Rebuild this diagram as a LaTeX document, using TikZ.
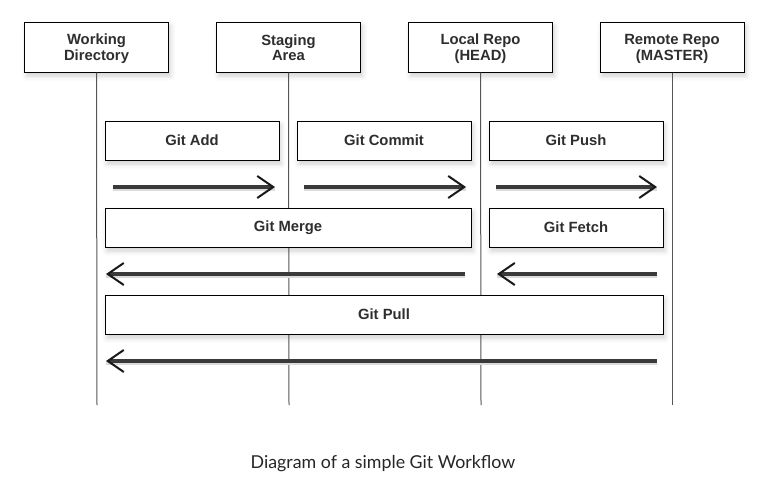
\documentclass[tikz,border=0pt]{standalone}
\usepackage{fontspec}
\setmainfont{Liberation Sans}
\newfontfamily\captionfont{Lato}
\usetikzlibrary{arrows.meta,shadows.blur}
\definecolor{ink}{HTML}{2E2E2E}
\definecolor{shaft}{HTML}{3A3A3A}
\definecolor{lifeline}{HTML}{555555}
\begin{document}
\begin{tikzpicture}[x=1pt,y=-1pt,
  card/.style={draw=black, line width=1pt, fill=white, text=ink,
    font=\bfseries\fontsize{14.8}{13.5}\selectfont, align=center,
    blur shadow={shadow xshift=2pt, shadow yshift=-4pt, shadow blur radius=5pt, shadow opacity=18}},
  headbox/.style={card, minimum width=144pt, minimum height=50pt},
  headtext/.style={text=ink, font=\bfseries\fontsize{14.8}{13.5}\selectfont, align=center, inner sep=0pt},
  cmdbox/.style={card, minimum height=39pt},
  life/.style={draw=lifeline, line width=1pt},
  msg/.style={draw=shaft, line width=3.6pt,
    -{Straight Barb[length=16pt, width=22pt, line width=2pt, color=black!90]}},
  msgshadow/.style={draw=black!14, line width=3.5pt}]
\useasboundingbox (0,0) rectangle (776,482);

% lifeline anchors
\coordinate (wdBot) at (97,405);
\coordinate (saBot) at (289,405);
\coordinate (lrBot) at (481,405);
\coordinate (rrBot) at (672,405);

% header boxes
\node[headbox] (wd) at (96.5,47) {};
\node[headbox] (sa) at (288.5,47) {};
\node[headbox] (lr) at (480.5,47) {};
\node[headbox] (rr) at (672,47) {};
\node[headtext] (wdt) at ([yshift=-2.5pt]wd.center) {Working\strut\\Directory\strut};
\node[headtext] (sat) at ([yshift=-2.5pt]sa.center) {Staging\strut\\Area\strut};
\node[headtext] (lrt) at ([yshift=-2.5pt]lr.center) {Local Repo\strut\\(HEAD)\strut};
\node[headtext] (rrt) at ([yshift=-2.5pt]rr.center) {Remote Repo\strut\\(MASTER)\strut};

% lifelines
\draw[life] (wd.south) -- (wdBot);
\draw[life] (sa.south) -- (saBot);
\draw[life] (lr.south) -- (lrBot);
\draw[life] (rr.south) -- (rrBot);

% command boxes
\node[cmdbox, minimum width=174pt] (add) at (192,140.5) {Git Add};
\node[cmdbox, minimum width=174pt] (commit) at (384,140.5) {Git Commit};
\node[cmdbox, minimum width=174pt] (push) at (576,140.5) {Git Push};
\node[cmdbox, minimum width=366pt] (merge) at (288,227.5) {Git Merge};
\node[cmdbox, minimum width=174pt] (fetch) at (576,227.5) {Git Fetch};
\node[cmdbox, minimum width=558pt] (pull) at (384,314.5) {Git Pull};

% arrow end points
\coordinate (a1s) at (113,187); \coordinate (a1e) at (275,187);
\coordinate (a2s) at (304,187); \coordinate (a2e) at (466,187);
\coordinate (a3s) at (496,187); \coordinate (a3e) at (657,187);
\coordinate (a4s) at (465,274); \coordinate (a4e) at (106,274);
\coordinate (a5s) at (657,274); \coordinate (a5e) at (497,274);
\coordinate (a6s) at (657,361); \coordinate (a6e) at (106,361);

% soft shading under the arrow shafts
\foreach \s/\e in {a1s/a1e,a2s/a2e,a3s/a3e,a4s/a4e,a5s/a5e,a6s/a6e}
  \draw[msgshadow] ([yshift=-2.5pt]\s) -- ([yshift=-2.5pt]\e);

% arrows
\draw[msg] (a1s) -- (a1e);
\draw[msg] (a2s) -- (a2e);
\draw[msg] (a3s) -- (a3e);
\draw[msg] (a4s) -- (a4e);
\draw[msg] (a5s) -- (a5e);
\draw[msg] (a6s) -- (a6e);

% caption
\node[text=black!85, font=\captionfont\fontsize{17.8}{19}\selectfont] (cap) at (383,464) {Diagram of a simple Git Workflow};
\end{tikzpicture}
\end{document}
